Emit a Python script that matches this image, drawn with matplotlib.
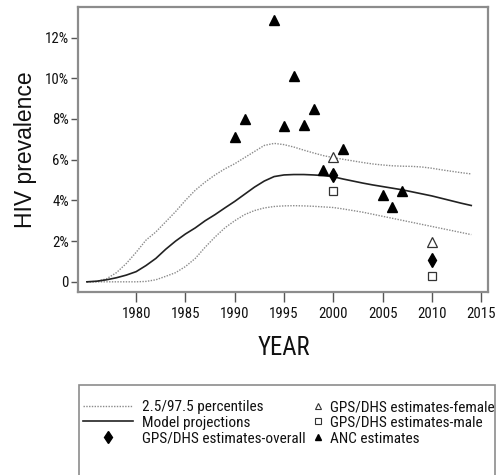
import matplotlib
matplotlib.use("Agg")
import matplotlib.pyplot as plt
from matplotlib import font_manager
from matplotlib.lines import Line2D
from matplotlib.patches import Rectangle
from matplotlib.ticker import FixedLocator, FixedFormatter

available = {f.name for f in font_manager.fontManager.ttflist}
narrow = 'Liberation Sans'
for cand in ['Liberation Sans Narrow', 'Arial Narrow', 'Roboto Condensed', 'Archivo Narrow',
             'PT Sans Narrow', 'Pragati Narrow', 'Fira Sans Condensed', 'IBM Plex Sans Condensed',
             'Encode Sans Condensed', 'Asap Condensed', 'Barlow Semi Condensed']:
    if cand in available:
        narrow = cand
        break
regular = 'Liberation Sans' if 'Liberation Sans' in available else 'DejaVu Sans'
plt.rcParams['font.family'] = [narrow, 'DejaVu Sans']

years = list(range(1975, 2015))
model = [0, 0.03, 0.1, 0.2, 0.33, 0.5, 0.8, 1.15, 1.6, 2.0,
         2.35, 2.65, 3.0, 3.3, 3.63, 3.95, 4.3, 4.65, 4.95, 5.17,
         5.25, 5.27, 5.27, 5.25, 5.22, 5.16, 5.05, 4.95, 4.85, 4.76,
         4.68, 4.6, 4.52, 4.42, 4.32, 4.22, 4.1, 3.98, 3.86, 3.75]
upper = [0, 0.02, 0.15, 0.45, 0.9, 1.45, 2.05, 2.45, 2.95, 3.45,
         4.0, 4.5, 4.9, 5.25, 5.55, 5.8, 6.1, 6.4, 6.7, 6.8,
         6.74, 6.62, 6.47, 6.33, 6.2, 6.1, 6.02, 5.94, 5.86, 5.79,
         5.74, 5.7, 5.68, 5.67, 5.64, 5.58, 5.5, 5.43, 5.36, 5.3]
lower = [0, 0, 0, 0, 0, 0, 0.02, 0.1, 0.27, 0.45,
         0.75, 1.15, 1.7, 2.2, 2.65, 3.0, 3.3, 3.5, 3.63, 3.7,
         3.73, 3.74, 3.73, 3.71, 3.68, 3.65, 3.58, 3.5, 3.42, 3.32,
         3.22, 3.12, 3.02, 2.92, 2.82, 2.72, 2.62, 2.52, 2.42, 2.32]

anc_years = [1990, 1991, 1994, 1995, 1996, 1997, 1998, 1999, 2001, 2005, 2006, 2007]
anc_vals = [7.1, 8.0, 12.85, 7.67, 10.1, 7.72, 8.5, 5.5, 6.53, 4.28, 3.68, 4.48]

gps_years = [2000, 2010]
gps_overall = [5.26, 1.08]
gps_female = [6.13, 1.97]
gps_male = [4.44, 0.3]

ytick_vals = [0, 2, 4, 6, 8, 10, 12]
ytick_labels = ['0', '2%', '4%', '6%', '8%', '10%', '12%']
xtick_vals = [1980, 1985, 1990, 1995, 2000, 2005, 2010, 2015]

W, H = 501, 475
fig = plt.figure(figsize=(W / 100, H / 100), dpi=100)
renderer = fig.canvas.get_renderer()


def size_for(s, target_px, family):
    t = fig.text(0, 0, s, fontsize=10, family=family)
    bb = t.get_window_extent(renderer)
    t.remove()
    return 10 * target_px / bb.width


tick_fs = size_for('1980', 29, narrow)
leg_fs = 0.5 * (size_for('GPS/DHS estimates-overall', 166, narrow)
                + size_for('GPS/DHS estimates-female', 162, narrow))
xl_fs = size_for('YEAR', 52, narrow)
yl_fs = size_for('HIV prevalence', 157, regular)

ax = fig.add_axes([78 / W, 1 - 292 / H, (488 - 78) / W, (292 - 7) / H])

dot_kw = dict(color='#8a8a8a', lw=1.0, ls=(0, (1, 1)))
ax.plot(years, upper, **dot_kw)
ax.plot(years, lower, **dot_kw)
ax.plot(years, model, color='#222222', lw=1.2)

ax.plot(anc_years, anc_vals, ls='none', marker='^', ms=6.5, color='black')
ax.plot(gps_years, gps_female, ls='none', marker='^', ms=6.5, mfc='white', mec='#333333', mew=0.9)
ax.plot(gps_years, gps_male, ls='none', marker='s', ms=5.5, mfc='white', mec='#333333', mew=0.9)
ax.plot(gps_years, gps_overall, ls='none', marker='d', ms=7.5, color='black')

ax.set_xlim(1974.1, 2015.7)
ax.set_ylim(-0.5, 13.5)
ax.yaxis.set_major_locator(FixedLocator(ytick_vals))
ax.yaxis.set_major_formatter(FixedFormatter(ytick_labels))
ax.set_xticks(xtick_vals)
ax.set_xticklabels([str(v) for v in xtick_vals])

for s in ax.spines.values():
    s.set_color('#8c8c8c')
    s.set_linewidth(1.6)
ax.tick_params(axis='y', direction='out', length=5, width=1.0, color='#555555',
               labelsize=tick_fs, pad=1.5, labelcolor='#111111')
ax.tick_params(axis='x', direction='out', length=7, width=1.0, color='#555555',
               labelsize=tick_fs, pad=4, labelcolor='#111111')

ax.set_ylabel('HIV prevalence', fontsize=yl_fs, family=[regular, 'DejaVu Sans'], color='#111111')
ax.yaxis.set_label_coords((37 - 78) / 410, 0.5)
ax.set_xlabel('YEAR', fontsize=xl_fs, color='#111111', va='top')
ax.xaxis.set_label_coords((284 - 78) / 410, (292 - 336) / 285)

# legend box
rect = Rectangle((79 / W, 1 - 490 / H), (495 - 79) / W, (490 - 385) / H,
                 transform=fig.transFigure, fill=False, edgecolor='#8c8c8c', lw=1.2,
                 clip_on=False)
fig.patches.append(rect)

leg_px = leg_fs * 100 / 72
h1 = [Line2D([], [], **dot_kw),
      Line2D([], [], color='#222222', lw=1.2),
      Line2D([], [], ls='none', marker='d', ms=6, color='black')]
l1 = ['2.5/97.5 percentiles', 'Model projections', 'GPS/DHS estimates-overall']
h2 = [Line2D([], [], ls='none', marker='^', ms=5, mfc='white', mec='#333333', mew=0.8),
      Line2D([], [], ls='none', marker='s', ms=4.5, mfc='white', mec='#333333', mew=0.8),
      Line2D([], [], ls='none', marker='^', ms=5, color='black')]
l2 = ['GPS/DHS estimates-female', 'GPS/DHS estimates-male', 'ANC estimates']

common = dict(loc='upper left', frameon=False, fontsize=leg_fs, labelspacing=0.12,
              borderaxespad=0, borderpad=0, labelcolor='#111111')
leg1 = fig.legend(h1, l1, bbox_to_anchor=(83 / W, 1 - 400 / H),
                  handlelength=50 / leg_px, handletextpad=9 / leg_px, **common)
leg2 = fig.legend(h2, l2, bbox_to_anchor=(311 / W, 1 - 400 / H),
                  handlelength=14 / leg_px, handletextpad=5 / leg_px, **common)

fig.savefig('out.png', dpi=100)
